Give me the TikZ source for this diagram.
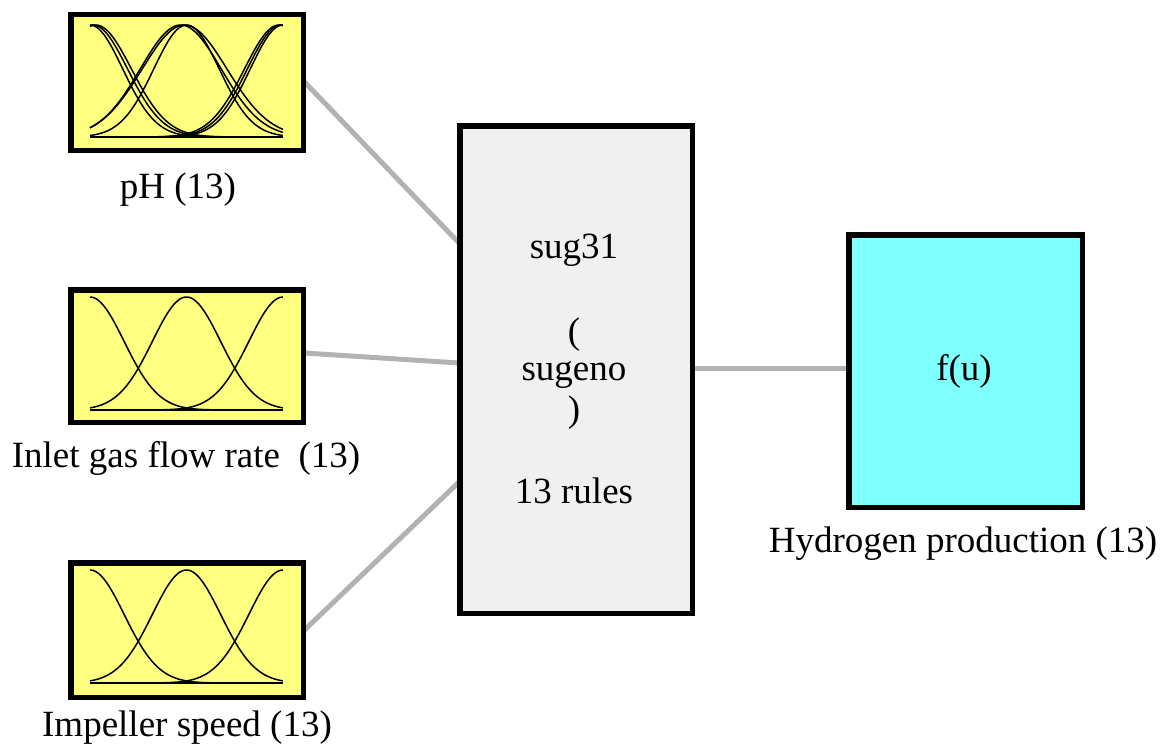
\documentclass[tikz,border=0pt]{standalone}
\usepackage{fontspec}
\setmainfont{Liberation Serif}
\definecolor{mfyellow}{RGB}{255,255,128}
\definecolor{outcyan}{RGB}{128,255,255}
\definecolor{rulegray}{RGB}{240,240,240}
\definecolor{linkgray}{RGB}{178,178,178}
\newcommand\mfgauss[6]{% x0, ybottom, width, height, center, sigma
  \draw[mfcurve] plot[domain=0:1,samples=70] ({#1+#3*\x},{#2-#4*exp(-((\x-#5)*(\x-#5))/(2*#6*#6))});}
\tikzset{
  box/.style={draw=black,line width=3.5pt,anchor=north west,inner sep=0pt},
  inbox/.style={box,fill=mfyellow,minimum width=231pt},
  lbl/.style={anchor=base,inner sep=0pt,font=\fontsize{37}{44}\selectfont},
  link/.style={draw=linkgray,line width=5pt},
  mfcurve/.style={black,line width=1.5pt},
}
\begin{document}
\begin{tikzpicture}[x=1pt,y=-1pt]
\useasboundingbox (0,0) rectangle (1164,752);
% input boxes
\node[inbox,minimum height=134pt] (in1) at (70,14) {};
\node[inbox,minimum height=131pt] (in2) at (70,289) {};
\node[inbox,minimum height=133pt] (in3) at (70,562) {};
% rule box
\node[box,fill=rulegray,minimum width=231pt,minimum height=486pt] (rules) at (459,125) {};
% output box
\node[box,fill=outcyan,minimum width=232pt,minimum height=271pt] (out) at (848,234) {};
% links
\draw[link] (in1.east |- 0,82) -- (rules.west |- 0,243);
\draw[link] (in2.east |- 0,353) -- (rules.west |- 0,363);
\draw[link] (in3.east |- 0,630) -- (rules.west |- 0,482);
\draw[link] (rules.east |- 0,368) -- (out.west |- 0,368);
% redraw box borders over link ends
\draw[line width=3.5pt] (in1.north west) rectangle (in1.south east);
\draw[line width=3.5pt] (in2.north west) rectangle (in2.south east);
\draw[line width=3.5pt] (in3.north west) rectangle (in3.south east);
\draw[line width=3.5pt] (rules.north west) rectangle (rules.south east);
\draw[line width=3.5pt] (out.north west) rectangle (out.south east);
% membership functions: pH
\mfgauss{90}{137}{193}{112}{0}{0.17}
\mfgauss{90}{137}{193}{112}{0.015}{0.18}
\mfgauss{90}{137}{193}{112}{0.03}{0.185}
\mfgauss{90}{137}{193}{112}{0.5}{0.17}
\mfgauss{90}{137}{193}{112}{0.47}{0.21}
\mfgauss{90}{137}{193}{112}{0.49}{0.22}
\mfgauss{90}{137}{193}{112}{1}{0.17}
\mfgauss{90}{137}{193}{112}{0.99}{0.175}
\mfgauss{90}{137}{193}{112}{0.98}{0.18}
\draw[mfcurve] (90,137) -- (283,137);
% inlet
\mfgauss{90}{410}{193}{113}{0}{0.177}
\mfgauss{90}{410}{193}{113}{0.5}{0.177}
\mfgauss{90}{410}{193}{113}{1}{0.177}
\draw[mfcurve] (90,410) -- (283,410);
% impeller
\mfgauss{90}{683}{193}{113}{0}{0.177}
\mfgauss{90}{683}{193}{113}{0.5}{0.177}
\mfgauss{90}{683}{193}{113}{1}{0.177}
\draw[mfcurve] (90,683) -- (283,683);
% labels
\node[lbl] (l1) at (178,198) {pH (13)};
\node[lbl] (l2) at (186,467) {Inlet gas flow rate\ \ (13)};
\node[lbl] (l3) at (187,736) {Impeller speed (13)};
\node[lbl] (l4) at (963,552) {Hydrogen production (13)};
% rule box text
\node[lbl] (t1) at (574,258) {sug31};
\node[lbl] (t2) at (574,343) {(};
\node[lbl] (t3) at (574,380) {sugeno};
\node[lbl] (t4) at (574,421) {)};
\node[lbl] (t5) at (574,503) {13 rules};
\node[lbl] (t6) at (964,380) {f(u)};
\end{tikzpicture}
\end{document}
